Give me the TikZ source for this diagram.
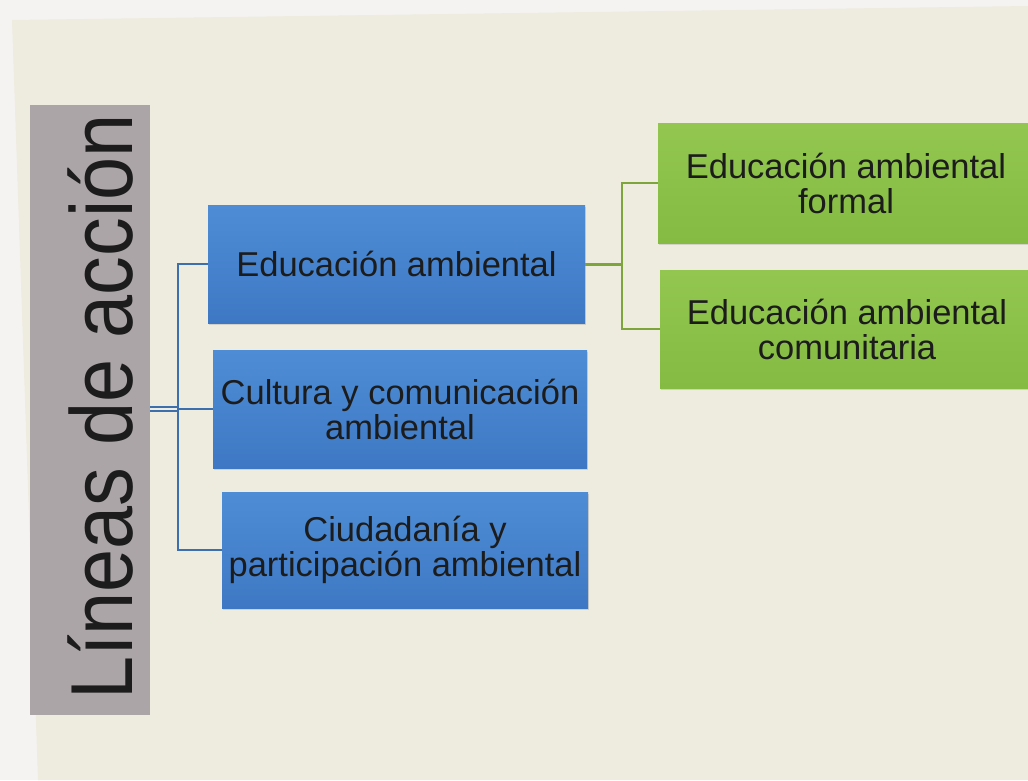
\documentclass[tikz,border=0pt]{standalone}
\usepackage{fontspec}
\setmainfont{Liberation Sans}
\usetikzlibrary{shadows}
\definecolor{paper}{HTML}{EEEBDF}
\definecolor{outer}{HTML}{F5F3F1}
\definecolor{barfill}{HTML}{ABA5A8}
\definecolor{bluetop}{HTML}{4E8DD6}
\definecolor{bluebot}{HTML}{3E78C4}
\definecolor{greentop}{HTML}{92C650}
\definecolor{greenbot}{HTML}{85BB42}
\definecolor{bluelink}{HTML}{3D6FAE}
\definecolor{greenlink}{HTML}{7EA53C}
\definecolor{ink}{HTML}{1C1C1C}
\tikzset{
  boxtext/.style={align=center, text=ink, font=\fontsize{34.5}{35}\selectfont, inner sep=0pt},
  bluebox/.style={boxtext, rectangle, top color=bluetop, bottom color=bluebot,
    drop shadow={opacity=0.25, shadow xshift=1pt, shadow yshift=-2pt}},
  greenbox/.style={boxtext, rectangle, top color=greentop, bottom color=greenbot,
    drop shadow={opacity=0.25, shadow xshift=1pt, shadow yshift=-2pt}},
  bline/.style={draw=bluelink, line width=2pt},
  gline/.style={draw=greenlink, line width=2pt},
}
\begin{document}
\begin{tikzpicture}[x=1pt, y=-1pt]
\fill[outer] (0,0) rectangle (1028,780);
\useasboundingbox (0,0) rectangle (1028,780);
\fill[paper] (12,20) -- (1028,6) -- (1028,780) -- (38,780) -- cycle;

% left bar with title
\node[rectangle, fill=barfill, minimum width=120pt, minimum height=610pt, inner sep=0pt] (bar) at (90,410) {};
\node[anchor=base, rotate=90, text=ink, font=\fontsize{88}{90}\selectfont, inner sep=0pt] (title) at (132,407) {\scalebox{0.88}[1]{Líneas de acción}};

% blue boxes
\node[bluebox, minimum width=377pt, minimum height=118pt] (b1) at (396.5,264) {Educación ambiental};
\node[bluebox, minimum width=374pt, minimum height=118pt] (b2) at (400,409) {Cultura y comunicación\\ambiental};
\node[bluebox, minimum width=366pt, minimum height=116pt] (b3) at (405,550) {Ciudadanía y\\participación ambiental};

% green boxes
\node[greenbox, minimum width=376pt, minimum height=120pt] (g1) at (846,183) {Educación ambiental\\formal};
\node[greenbox, minimum width=374pt, minimum height=118pt] (g2) at (847,329) {Educación ambiental\\comunitaria};

% blue connectors
\draw[bline] (b1.west) -- ++(-30,0) coordinate (sp) |- (b3.west);
\draw[bline] (sp |- b2.west) -- (b2.west);
\draw[draw=bluelink, line width=5.5pt] (bar.east |- b2.west) -- (sp |- b2.west);
\draw[draw=paper, line width=1.5pt] (bar.east |- b2.west) -- ([xshift=-1pt]sp |- b2.west);

% green connectors
\draw[gline, line width=3pt] (b1.east) -- ++(37,0) coordinate (gs);
\draw[gline] (g1.west) -| (gs) |- (g2.west);
\end{tikzpicture}
\end{document}
